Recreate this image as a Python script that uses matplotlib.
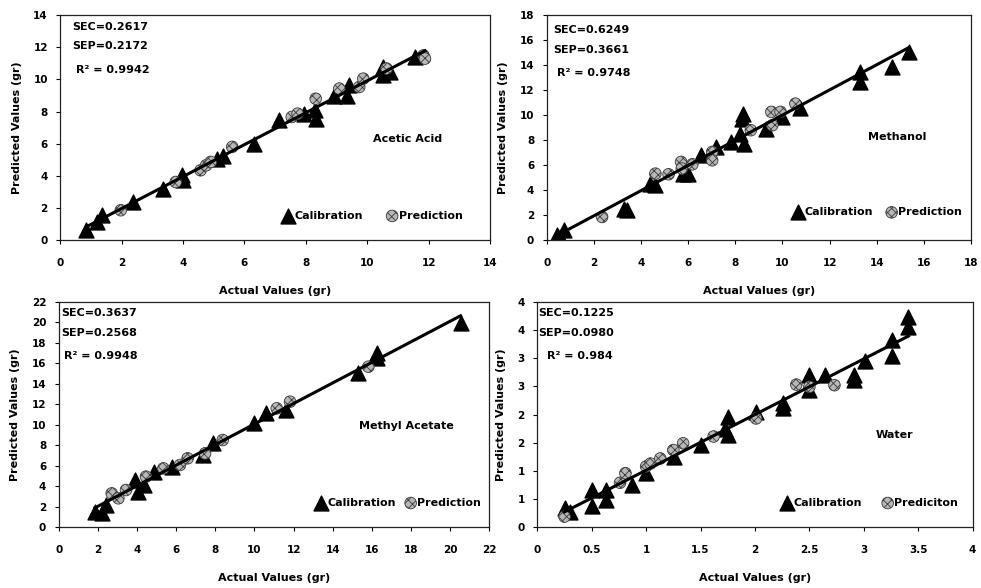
import numpy as np
import matplotlib.pyplot as plt

plt.rcParams['font.family'] = ['DejaVu Sans']
plt.rcParams['font.weight'] = 'bold'
plt.rcParams['hatch.linewidth'] = 0.6

# Acetic Acid
acetic_cal_x = [0.84, 1.18, 1.37, 2.36, 3.36, 3.95, 3.99, 5.12, 5.29, 6.31, 7.13, 7.94, 8.33, 8.31,
                8.93, 9.33, 9.42, 10.52, 10.52, 10.74, 11.56]
acetic_cal_y = [0.6, 1.12, 1.54, 2.37, 3.2, 4.03, 3.72, 5.07, 5.21, 6.0, 7.46, 7.87, 7.56, 8.08,
                9.0, 9.0, 9.64, 10.78, 10.26, 10.47, 11.4]
acetic_pred_x = [1.97, 3.76, 4.57, 4.75, 4.9, 5.6, 7.54, 7.73, 8.32, 9.09, 9.74, 9.87, 10.63, 11.83, 11.88]
acetic_pred_y = [1.85, 3.61, 4.34, 4.65, 4.86, 5.8, 7.66, 7.87, 8.8, 9.43, 9.53, 10.05, 10.68, 11.5, 11.3]

# Methanol
meoh_cal_x = [0.42, 0.56, 0.73, 3.28, 3.42, 4.37, 4.61, 5.77, 5.98, 6.53, 7.2, 7.83, 8.18, 8.32, 8.27,
              8.38, 9.29, 9.99, 10.73, 13.28, 13.28, 14.64, 15.37]
meoh_cal_y = [0.37, 0.24, 0.77, 2.51, 2.38, 4.51, 4.38, 5.31, 5.31, 6.78, 7.45, 7.85, 8.52, 10.12, 9.7,
              7.72, 8.92, 9.86, 10.6, 13.46, 12.66, 13.86, 15.06]
meoh_pred_x = [2.35, 4.61, 5.17, 5.7, 5.73, 6.18, 7.02, 7.02, 8.66, 9.53, 9.57, 9.92, 10.55]
meoh_pred_y = [1.84, 5.31, 5.26, 6.25, 5.72, 6.06, 7.05, 6.38, 8.79, 10.26, 9.19, 10.26, 10.92]

# Methyl Acetate
meac_cal_x = [1.86, 2.2, 2.42, 3.9, 4.07, 4.36, 4.87, 5.79, 7.36, 7.9, 9.98, 10.57, 11.61,
              15.27, 16.24, 16.24, 20.53]
meac_cal_y = [1.53, 1.37, 2.18, 4.61, 3.48, 4.13, 5.43, 5.91, 7.05, 8.19, 10.14, 11.11, 11.44,
              15.01, 16.96, 16.48, 19.89]
meac_pred_x = [2.71, 3.05, 3.44, 4.46, 5.35, 6.2, 6.59, 7.48, 8.38, 11.14, 11.82, 15.82]
meac_pred_y = [3.31, 2.83, 3.64, 4.94, 5.75, 6.08, 6.73, 7.21, 8.51, 11.6, 12.25, 15.66]

# Water
water_cal_x = [0.25, 0.3, 0.5, 0.5, 0.63, 0.63, 0.87, 1.0, 1.26, 1.5, 1.75, 1.72, 1.75, 2.01, 2.26,
               2.26, 2.5, 2.5, 2.64, 2.91, 2.91, 3.01, 3.26, 3.26, 3.41, 3.41]
water_cal_y = [0.34, 0.28, 0.66, 0.37, 0.66, 0.48, 0.75, 0.96, 1.25, 1.46, 1.96, 1.75, 1.64, 2.05, 2.2,
               2.11, 2.7, 2.43, 2.7, 2.7, 2.61, 2.94, 3.32, 3.03, 3.73, 3.55]
water_pred_x = [0.25, 0.76, 0.81, 1.0, 1.04, 1.13, 1.25, 1.34, 1.62, 2.01, 2.38, 2.5, 2.73]
water_pred_y = [0.19, 0.79, 0.96, 1.08, 1.13, 1.22, 1.37, 1.49, 1.61, 1.93, 2.53, 2.49, 2.52]

names = ['Acetic Acid', 'Methanol', 'Methyl Acetate', 'Water']
sec = ['0.2617', '0.6249', '0.3637', '0.1225']
sep = ['0.2172', '0.3661', '0.2568', '0.0980']
r2 = ['0.9942', '0.9748', '0.9948', '0.984']
pred_label = ['Prediction', 'Prediction', 'Prediction', 'Prediciton']
axis_max = [14, 18, 22, 4]
tick_step = [2, 2, 2, 0.5]
water_ylabels = ['0', '1', '1', '2', '2', '3', '3', '4', '4']

data = [
    (acetic_cal_x, acetic_cal_y, acetic_pred_x, acetic_pred_y),
    (meoh_cal_x, meoh_cal_y, meoh_pred_x, meoh_pred_y),
    (meac_cal_x, meac_cal_y, meac_pred_x, meac_pred_y),
    (water_cal_x, water_cal_y, water_pred_x, water_pred_y),
]

# axes rectangles, text placement (axes fraction)
rects = [[0.0615, 0.592, 0.438, 0.382], [0.5573, 0.592, 0.4325, 0.382],
         [0.0598, 0.1032, 0.439, 0.3837], [0.5477, 0.1032, 0.4438, 0.3837]]
stats_x = [(0.028, 0.037), (0.015, 0.024), (0.005, 0.012), (0.002, 0.022)]
stats_y = [(0.947, 0.862, 0.755), (0.934, 0.844, 0.742), (0.95, 0.861, 0.76), (0.95, 0.861, 0.76)]
name_pos = [(0.807, 0.449), (0.825, 0.457), (0.807, 0.449), (0.82, 0.409)]
leg_pos = [(0.728, 0.107), (0.78, 0.123), (0.79, 0.108), (0.765, 0.108)]
leg_space = [2.2, 1.3, 0.9, 1.9]

fig = plt.figure(figsize=(9.81, 5.88), dpi=100)

for i in range(4):
    cx, cy, px, py = data[i]
    ax = fig.add_axes(rects[i])
    ax.set_facecolor('none')

    tri = ax.scatter(cx, cy, marker='^', s=115, color='black', zorder=2)
    circ = ax.scatter(px, py, marker='o', s=70, facecolor='#b8b8b8', edgecolor='#3a3a3a',
                      hatch='xxxx', linewidth=0.6, zorder=2)

    # trend line over all points
    allx = np.array(cx + px)
    ally = np.array(cy + py)
    k, b = np.polyfit(allx, ally, 1)
    xs = np.array([allx.min(), allx.max()])
    ax.plot(xs, k * xs + b, color='black', lw=2.2, zorder=3)

    ticks = np.arange(0, axis_max[i] + tick_step[i] / 2, tick_step[i])
    ax.set_xlim(0, axis_max[i])
    ax.set_ylim(0, axis_max[i])
    ax.set_xticks(ticks)
    ax.set_yticks(ticks)
    if i == 3:
        ax.set_xticklabels(['%g' % t for t in ticks])
        ax.set_yticklabels(water_ylabels)
    else:
        ax.set_xticklabels(['%d' % t for t in ticks])
        ax.set_yticklabels(['%d' % t for t in ticks])
    ax.tick_params(direction='out', length=3, width=0.8, labelsize=7.5)
    ax.tick_params(axis='x', pad=10)
    ax.tick_params(axis='y', pad=6)
    for s in ax.spines.values():
        s.set_linewidth(0.9)
        s.set_color('#222222')

    ax.set_xlabel('Actual Values (gr)', fontsize=8, fontweight='bold', labelpad=13)
    ax.set_ylabel('Predicted Values (gr)', fontsize=8, fontweight='bold', labelpad=8)

    tx, rx = stats_x[i]
    y1, y2, y3 = stats_y[i]
    ax.text(tx, y1, 'SEC=' + sec[i], transform=ax.transAxes, fontsize=8, va='center')
    ax.text(tx, y2, 'SEP=' + sep[i], transform=ax.transAxes, fontsize=8, va='center')
    ax.text(rx, y3, 'R² = ' + r2[i], transform=ax.transAxes, fontsize=8, va='center')
    ax.text(name_pos[i][0], name_pos[i][1], names[i], transform=ax.transAxes,
            fontsize=8, ha='center', va='center')

    ax.legend([tri, circ], ['Calibration', pred_label[i]], loc='center', bbox_to_anchor=leg_pos[i],
              ncol=2, frameon=False, fontsize=8, handlelength=0.8, handletextpad=0.2,
              columnspacing=leg_space[i], borderpad=0, borderaxespad=0, scatterpoints=1)

fig.savefig('out.png', dpi=100)
